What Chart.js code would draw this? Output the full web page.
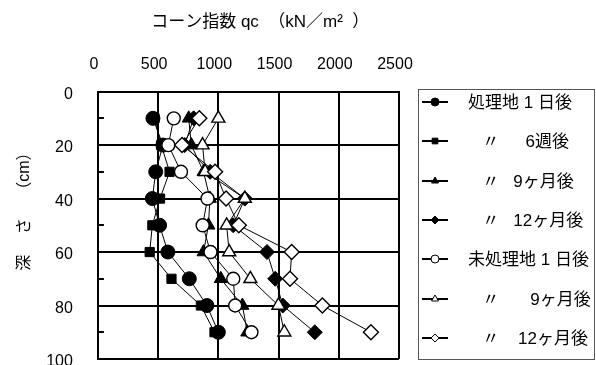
<!DOCTYPE html>
<html>
<head>
<meta charset="utf-8">
<script src="https://cdn.jsdelivr.net/npm/chart.js@4.4.0/dist/chart.umd.min.js"></script>
<style>
html, body { margin: 0; padding: 0; background: #fff; overflow: hidden; }
#wrap { width: 596px; height: 372px; }
</style>
</head>
<body>
<div id="wrap"><canvas id="coneChart" width="596" height="372"></canvas></div>
<script>
// 深さ (cm) と コーン指数 qc (kN/m2)
const depthCm = [10, 20, 30, 40, 50, 60, 70, 80, 90];
const treated1Day = [457, 540, 480, 452, 512, 581, 759, 905, 1000];
const treated6Week = [470, 526, 595, 516, 452, 430, 611, 855, 968];
const treated9Month = [754, 776, 877, 930, 918, 877, 1020, 1200, 1240];
const treated12Month = [795, 720, 932, 1220, 1124, 1404, 1472, 1535, 1801];
const untreated1Day = [630, 585, 690, 910, 870, 935, 1124, 1140, 1275];
const untreated9Month = [1000, 869, 890, 1220, 1069, 1090, 1266, 1499, 1548];
const untreated12Month = [842, 699, 973, 1064, 1170, 1609, 1595, 1864, 2267];

const seriesLabels = [
    '処理地 1 日後',
    '   〃　  6週後',
    '   〃   9ヶ月後',
    '   〃   12ヶ月後',
    '未処理地 1 日後',
    '   〃　   9ヶ月後',
    '   〃    12ヶ月後'
];

const qcTicks = [0, 500, 1000, 1500, 2000, 2500];
const depthTicks = [0, 20, 40, 60, 80, 100];
const depthMinorTicks = [10, 30, 50, 70, 90];

const FONT = '"Liberation Sans", "Noto Sans CJK JP", sans-serif';
Chart.defaults.font.family = FONT;
Chart.defaults.color = '#000';

function toPoints(values) {
    return depthCm.map((d, i) => ({ x: values[i], y: d }));
}

function series(label, values, style, radius, filled, order) {
    const ds = {
        label: label,
        showLine: true,
        borderColor: '#000',
        borderWidth: 1,
        pointStyle: style,
        pointRadius: radius,
        pointBackgroundColor: filled ? '#000' : '#fff',
        pointBorderColor: '#000',
        pointBorderWidth: filled ? 1 : 1.4,
        order: order
    };
    ds.data = toPoints(values);
    return ds;
}

// 深さ 10,30,... の小目盛り
const minorTicks = {
    id: 'minorTicks',
    afterDraw(chart) {
        const ctx = chart.ctx;
        const y = chart.scales.y;
        const left = chart.chartArea.left;
        ctx.save();
        ctx.strokeStyle = '#000';
        ctx.lineWidth = 2;
        depthMinorTicks.forEach(v => {
            const py = Math.round(y.getPixelForValue(v));
            ctx.beginPath();
            ctx.moveTo(left, py);
            ctx.lineTo(left + 6, py);
            ctx.stroke();
        });
        ctx.restore();
    }
};

// 枠付きの凡例
const boxLegend = {
    id: 'boxLegend',
    afterDraw(chart) {
        const ctx = chart.ctx;
        ctx.save();
        ctx.strokeStyle = '#555';
        ctx.lineWidth = 1;
        ctx.strokeRect(418.5, 89.5, 176, 270);
        ctx.font = '17px ' + FONT;
        ctx.textBaseline = 'middle';
        ctx.textAlign = 'left';
        chart.data.datasets.forEach((ds, i) => {
            const y = Math.round(102 + i * 39.3);
            ctx.strokeStyle = '#000';
            ctx.lineWidth = 2;
            ctx.beginPath();
            ctx.moveTo(422, y);
            ctx.lineTo(448, y);
            ctx.stroke();
            ctx.fillStyle = ds.pointBackgroundColor;
            ctx.lineWidth = 1;
            Chart.helpers.drawPoint(ctx, { pointStyle: ds.pointStyle, radius: 4, borderWidth: 1, rotation: 0 }, 435, y);
            ctx.fillStyle = '#000';
            ctx.fillText(ds.label, 468, y + 1);
        });
        ctx.restore();
    }
};

const chartConfig = {
    type: 'scatter',
    options: {
        responsive: false,
        animation: false,
        layout: { padding: { top: 6, left: 11, right: 197, bottom: 13 } },
        plugins: {
            legend: { display: false },
            tooltip: { enabled: false }
        },
        scales: {
            x: {
                type: 'linear',
                position: 'top',
                min: qcTicks[0],
                max: qcTicks[qcTicks.length - 1],
                afterBuildTicks: s => { s.ticks = qcTicks.map(v => ({ value: v })); },
                grid: { color: '#000', lineWidth: 2, tickLength: 14, tickColor: 'rgba(0,0,0,0)' },
                border: { color: '#000', width: 2 },
                ticks: { padding: 3, labelOffset: -4, font: { size: 16 }, callback: v => String(v) },
                title: {
                    display: true,
                    text: '     コーン指数 qc  （kN／m²  ）',
                    font: { size: 17 },
                    padding: { top: 6, bottom: 20 }
                }
            },
            y: {
                type: 'linear',
                reverse: true,
                min: depthTicks[0],
                max: depthTicks[depthTicks.length - 1],
                afterBuildTicks: s => { s.ticks = depthTicks.map(v => ({ value: v })); },
                grid: { color: '#000', lineWidth: 2, tickLength: 22, tickColor: 'rgba(0,0,0,0)' },
                border: { color: '#000', width: 2 },
                ticks: { padding: 3, labelOffset: 3, font: { size: 16 }, callback: v => String(v) },
                title: {
                    display: true,
                    text: '        深　 さ　 （cm）',
                    font: { size: 16 },
                    padding: { top: 4, bottom: 9 }
                }
            }
        }
    },
    plugins: [minorTicks, boxLegend]
};
chartConfig.data = {
    datasets: [
        series(seriesLabels[0], treated1Day, 'circle', 7, true, 7),
        series(seriesLabels[1], treated6Week, 'rect', 6.5, true, 6),
        series(seriesLabels[2], treated9Month, 'triangle', 7.5, true, 5),
        series(seriesLabels[3], treated12Month, 'rectRot', 7.5, true, 4),
        series(seriesLabels[4], untreated1Day, 'circle', 6.5, false, 3),
        series(seriesLabels[5], untreated9Month, 'triangle', 7.5, false, 2),
        series(seriesLabels[6], untreated12Month, 'rectRot', 7.5, false, 1)
    ]
};

const ctx = document.getElementById('coneChart').getContext('2d');
const coneChart = new Chart(ctx, chartConfig);
</script>
</body>
</html>
